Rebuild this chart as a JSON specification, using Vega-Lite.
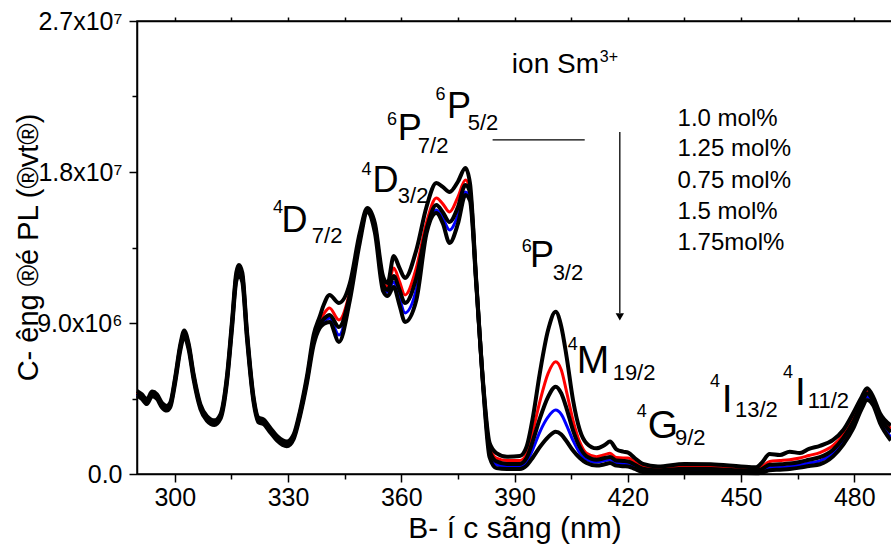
{
  "$schema": "https://vega.github.io/schema/vega-lite/v6.json",
  "autosize": {"type": "none"},
  "padding": {"left": 137, "top": 21, "right": 0, "bottom": 75},
  "width": 755,
  "height": 453,
  "background": "white",
  "config": {
    "font": "Liberation Sans",
    "view": {"stroke": "black", "strokeWidth": 1.5},
    "text": {"align": "left", "baseline": "alphabetic", "color": "#000000", "font": "Liberation Sans"},
    "axis": {"domainColor": "black", "domainWidth": 1.5, "tickColor": "black", "tickWidth": 1.5, "labelColor": "black", "titleColor": "black", "grid": false, "labelFont": "Liberation Sans", "titleFont": "Liberation Sans", "titleFontWeight": "normal"}
  },
  "datasets": {
    "spectra": [
      {"nm": 290, "s1": 4.95e6, "s2": 4.88e6, "s3": 4.81e6, "s4": 4.74e6, "s5": 4.67e6},
      {"nm": 291.3, "s1": 4.75e6, "s2": 4.68e6, "s3": 4.61e6, "s4": 4.54e6, "s5": 4.47e6},
      {"nm": 292.6, "s1": 4.45e6, "s2": 4.38e6, "s3": 4.31e6, "s4": 4.24e6, "s5": 4.17e6},
      {"nm": 294, "s1": 4.91e6, "s2": 4.84e6, "s3": 4.77e6, "s4": 4.70e6, "s5": 4.63e6},
      {"nm": 295.3, "s1": 4.75e6, "s2": 4.68e6, "s3": 4.61e6, "s4": 4.54e6, "s5": 4.47e6},
      {"nm": 296.6, "s1": 4.25e6, "s2": 4.18e6, "s3": 4.11e6, "s4": 4.04e6, "s5": 3.97e6},
      {"nm": 297.9, "s1": 4.06e6, "s2": 3.99e6, "s3": 3.92e6, "s4": 3.85e6, "s5": 3.78e6},
      {"nm": 298.8, "s1": 4.25e6, "s2": 4.18e6, "s3": 4.11e6, "s4": 4.04e6, "s5": 3.97e6},
      {"nm": 300.1, "s1": 5.75e6, "s2": 5.68e6, "s3": 5.6e6, "s4": 5.5e6, "s5": 5.42e6},
      {"nm": 301.5, "s1": 7.75e6, "s2": 7.68e6, "s3": 7.59e6, "s4": 7.48e6, "s5": 7.4e6},
      {"nm": 302.5, "s1": 8.55e6, "s2": 8.48e6, "s3": 8.39e6, "s4": 8.28e6, "s5": 8.2e6},
      {"nm": 303.7, "s1": 7.75e6, "s2": 7.68e6, "s3": 7.59e6, "s4": 7.48e6, "s5": 7.4e6},
      {"nm": 305, "s1": 5.95e6, "s2": 5.88e6, "s3": 5.8e6, "s4": 5.7e6, "s5": 5.62e6},
      {"nm": 306.8, "s1": 4.15e6, "s2": 4.08e6, "s3": 4.01e6, "s4": 3.94e6, "s5": 3.87e6},
      {"nm": 308.5, "s1": 3.46e6, "s2": 3.39e6, "s3": 3.32e6, "s4": 3.25e6, "s5": 3.18e6},
      {"nm": 310.5, "s1": 3.2e6, "s2": 3.13e6, "s3": 3.06e6, "s4": 2.99e6, "s5": 2.92e6},
      {"nm": 312.1, "s1": 3.56e6, "s2": 3.49e6, "s3": 3.42e6, "s4": 3.35e6, "s5": 3.28e6},
      {"nm": 313.8, "s1": 5.78e6, "s2": 5.7e6, "s3": 5.6e6, "s4": 5.5e6, "s5": 5.4e6},
      {"nm": 315.2, "s1": 9.2e6, "s2": 9.1e6, "s3": 8.98e6, "s4": 8.86e6, "s5": 8.75e6},
      {"nm": 316.3, "s1": 12.0e6, "s2": 11.9e6, "s3": 11.76e6, "s4": 11.62e6, "s5": 11.5e6},
      {"nm": 317, "s1": 12.46e6, "s2": 12.3e6, "s3": 12.2e6, "s4": 12.0e6, "s5": 11.85e6},
      {"nm": 317.9, "s1": 12.0e6, "s2": 11.9e6, "s3": 11.76e6, "s4": 11.6e6, "s5": 11.45e6},
      {"nm": 319.1, "s1": 8.6e6, "s2": 8.5e6, "s3": 8.39e6, "s4": 8.27e6, "s5": 8.15e6},
      {"nm": 320.9, "s1": 4.56e6, "s2": 4.49e6, "s3": 4.41e6, "s4": 4.33e6, "s5": 4.25e6},
      {"nm": 322.2, "s1": 3.36e6, "s2": 3.29e6, "s3": 3.22e6, "s4": 3.15e6, "s5": 3.08e6},
      {"nm": 323.5, "s1": 3.26e6, "s2": 3.19e6, "s3": 3.12e6, "s4": 3.05e6, "s5": 2.98e6},
      {"nm": 325.3, "s1": 2.76e6, "s2": 2.69e6, "s3": 2.62e6, "s4": 2.55e6, "s5": 2.48e6},
      {"nm": 327.1, "s1": 2.27e6, "s2": 2.2e6, "s3": 2.13e6, "s4": 2.06e6, "s5": 1.99e6},
      {"nm": 329.7, "s1": 1.93e6, "s2": 1.86e6, "s3": 1.79e6, "s4": 1.72e6, "s5": 1.65e6},
      {"nm": 331.5, "s1": 2.36e6, "s2": 2.29e6, "s3": 2.22e6, "s4": 2.15e6, "s5": 2.08e6},
      {"nm": 333.2, "s1": 3.78e6, "s2": 3.7e6, "s3": 3.62e6, "s4": 3.54e6, "s5": 3.46e6},
      {"nm": 335, "s1": 5.8e6, "s2": 5.7e6, "s3": 5.6e6, "s4": 5.48e6, "s5": 5.38e6},
      {"nm": 336.8, "s1": 8.3e6, "s2": 8.12e6, "s3": 7.99e6, "s4": 7.84e6, "s5": 7.7e6},
      {"nm": 338.4, "s1": 9.38e6, "s2": 9.1e6, "s3": 8.95e6, "s4": 8.85e6, "s5": 8.7e6},
      {"nm": 339.5, "s1": 10.1e6, "s2": 9.55e6, "s3": 9.25e6, "s4": 9.1e6, "s5": 8.95e6},
      {"nm": 341, "s1": 10.67e6, "s2": 9.89e6, "s3": 9.48e6, "s4": 9.3e6, "s5": 9.06e6},
      {"nm": 343.5, "s1": 10.19e6, "s2": 9.18e6, "s3": 8.76e6, "s4": 8.28e6, "s5": 7.87e6},
      {"nm": 346.4, "s1": 11.38e6, "s2": 10.9e6, "s3": 10.7e6, "s4": 10.55e6, "s5": 10.37e6},
      {"nm": 349, "s1": 14.36e6, "s2": 14.2e6, "s3": 14.05e6, "s4": 13.9e6, "s5": 13.77e6},
      {"nm": 351, "s1": 15.85e6, "s2": 15.8e6, "s3": 15.74e6, "s4": 15.68e6, "s5": 15.6e6},
      {"nm": 353, "s1": 14.96e6, "s2": 14.85e6, "s3": 14.75e6, "s4": 14.6e6, "s5": 14.4e6},
      {"nm": 355.2, "s1": 11.76e6, "s2": 11.5e6, "s3": 11.3e6, "s4": 11.1e6, "s5": 10.9e6},
      {"nm": 356.4, "s1": 11.38e6, "s2": 11.15e6, "s3": 10.97e6, "s4": 10.85e6, "s5": 10.61e6},
      {"nm": 358, "s1": 12.99e6, "s2": 12.28e6, "s3": 11.8e6, "s4": 11.44e6, "s5": 11.15e6},
      {"nm": 359.5, "s1": 12.3e6, "s2": 11.5e6, "s3": 11.0e6, "s4": 10.5e6, "s5": 10.1e6},
      {"nm": 361, "s1": 11.68e6, "s2": 10.67e6, "s3": 10.19e6, "s4": 9.6e6, "s5": 9.06e6},
      {"nm": 364, "s1": 13.35e6, "s2": 12.3e6, "s3": 11.7e6, "s4": 11.0e6, "s5": 10.37e6},
      {"nm": 366.7, "s1": 15.93e6, "s2": 15.0e6, "s3": 14.6e6, "s4": 14.4e6, "s5": 14.35e6},
      {"nm": 369.3, "s1": 17.34e6, "s2": 16.45e6, "s3": 16.03e6, "s4": 15.74e6, "s5": 15.56e6},
      {"nm": 371, "s1": 17.11e6, "s2": 16.1e6, "s3": 15.6e6, "s4": 15.25e6, "s5": 14.95e6},
      {"nm": 372.8, "s1": 16.81e6, "s2": 15.62e6, "s3": 15.02e6, "s4": 14.54e6, "s5": 13.77e6},
      {"nm": 375, "s1": 17.42e6, "s2": 16.5e6, "s3": 15.9e6, "s4": 15.4e6, "s5": 14.9e6},
      {"nm": 377, "s1": 18.24e6, "s2": 17.52e6, "s3": 17.22e6, "s4": 16.81e6, "s5": 16.63e6},
      {"nm": 378.2, "s1": 17.34e6, "s2": 17.0e6, "s3": 16.8e6, "s4": 16.5e6, "s5": 16.3e6},
      {"nm": 379.9, "s1": 11.4e6, "s2": 11.3e6, "s3": 11.3e6, "s4": 11.2e6, "s5": 11.2e6},
      {"nm": 381.7, "s1": 5.42e6, "s2": 5.3e6, "s3": 5.3e6, "s4": 5.2e6, "s5": 5.2e6},
      {"nm": 383.4, "s1": 1.85e6, "s2": 1.6e6, "s3": 1.4e6, "s4": 1.2e6, "s5": 1.0e6},
      {"nm": 385.2, "s1": 1.25e6, "s2": 0.95e6, "s3": 0.75e6, "s4": 0.55e6, "s5": 0.35e6},
      {"nm": 388, "s1": 1.03e6, "s2": 0.8e6, "s3": 0.6e6, "s4": 0.45e6, "s5": 0.3e6},
      {"nm": 391.4, "s1": 1.07e6, "s2": 0.8e6, "s3": 0.6e6, "s4": 0.45e6, "s5": 0.3e6},
      {"nm": 393.2, "s1": 1.63e6, "s2": 1.2e6, "s3": 0.95e6, "s4": 0.7e6, "s5": 0.5e6},
      {"nm": 394.9, "s1": 3.42e6, "s2": 2.6e6, "s3": 2.0e6, "s4": 1.5e6, "s5": 1.0e6},
      {"nm": 396.7, "s1": 6.0e6, "s2": 4.3e6, "s3": 3.3e6, "s4": 2.5e6, "s5": 1.6e6},
      {"nm": 398.9, "s1": 8.58e6, "s2": 6.0e6, "s3": 4.6e6, "s4": 3.4e6, "s5": 2.2e6},
      {"nm": 400.9, "s1": 9.67e6, "s2": 6.69e6, "s3": 5.2e6, "s4": 3.81e6, "s5": 2.52e6},
      {"nm": 402.4, "s1": 8.78e6, "s2": 6.2e6, "s3": 4.8e6, "s4": 3.55e6, "s5": 2.35e6},
      {"nm": 403.8, "s1": 6.99e6, "s2": 4.9e6, "s3": 3.9e6, "s4": 2.9e6, "s5": 1.95e6},
      {"nm": 405.5, "s1": 4.41e6, "s2": 3.2e6, "s3": 2.6e6, "s4": 2.0e6, "s5": 1.4e6},
      {"nm": 407.3, "s1": 2.62e6, "s2": 1.9e6, "s3": 1.6e6, "s4": 1.25e6, "s5": 0.95e6},
      {"nm": 409.1, "s1": 1.83e6, "s2": 1.23e6, "s3": 1.05e6, "s4": 0.85e6, "s5": 0.65e6},
      {"nm": 411.7, "s1": 1.53e6, "s2": 1.03e6, "s3": 0.85e6, "s4": 0.7e6, "s5": 0.5e6},
      {"nm": 413.9, "s1": 1.73e6, "s2": 1.15e6, "s3": 0.95e6, "s4": 0.8e6, "s5": 0.58e6},
      {"nm": 415.3, "s1": 1.93e6, "s2": 1.23e6, "s3": 1.02e6, "s4": 0.85e6, "s5": 0.65e6},
      {"nm": 417, "s1": 1.47e6, "s2": 0.98e6, "s3": 0.8e6, "s4": 0.66e6, "s5": 0.5e6},
      {"nm": 418.8, "s1": 1.33e6, "s2": 0.95e6, "s3": 0.78e6, "s4": 0.62e6, "s5": 0.46e6},
      {"nm": 420.1, "s1": 1.27e6, "s2": 0.95e6, "s3": 0.75e6, "s4": 0.6e6, "s5": 0.45e6},
      {"nm": 421.9, "s1": 0.94e6, "s2": 0.7e6, "s3": 0.55e6, "s4": 0.42e6, "s5": 0.3e6},
      {"nm": 424, "s1": 0.6e6, "s2": 0.42e6, "s3": 0.32e6, "s4": 0.22e6, "s5": 0.12e6},
      {"nm": 428, "s1": 0.45e6, "s2": 0.3e6, "s3": 0.22e6, "s4": 0.15e6, "s5": 0.06e6},
      {"nm": 435, "s1": 0.6e6, "s2": 0.42e6, "s3": 0.32e6, "s4": 0.22e6, "s5": 0.12e6},
      {"nm": 442, "s1": 0.58e6, "s2": 0.4e6, "s3": 0.3e6, "s4": 0.2e6, "s5": 0.1e6},
      {"nm": 450, "s1": 0.45e6, "s2": 0.3e6, "s3": 0.22e6, "s4": 0.15e6, "s5": 0.06e6},
      {"nm": 454, "s1": 0.4e6, "s2": 0.28e6, "s3": 0.2e6, "s4": 0.12e6, "s5": 0.05e6},
      {"nm": 455.4, "s1": 0.64e6, "s2": 0.4e6, "s3": 0.28e6, "s4": 0.18e6, "s5": 0.08e6},
      {"nm": 457.6, "s1": 1.19e6, "s2": 0.75e6, "s3": 0.55e6, "s4": 0.38e6, "s5": 0.22e6},
      {"nm": 460.3, "s1": 1.13e6, "s2": 0.8e6, "s3": 0.58e6, "s4": 0.42e6, "s5": 0.26e6},
      {"nm": 462.9, "s1": 1.33e6, "s2": 0.85e6, "s3": 0.62e6, "s4": 0.45e6, "s5": 0.3e6},
      {"nm": 465.6, "s1": 1.25e6, "s2": 0.95e6, "s3": 0.72e6, "s4": 0.55e6, "s5": 0.38e6},
      {"nm": 468, "s1": 1.5e6, "s2": 1.1e6, "s3": 0.85e6, "s4": 0.65e6, "s5": 0.48e6},
      {"nm": 470.9, "s1": 1.68e6, "s2": 1.28e6, "s3": 1.0e6, "s4": 0.78e6, "s5": 0.58e6},
      {"nm": 474.4, "s1": 2.03e6, "s2": 1.7e6, "s3": 1.45e6, "s4": 1.25e6, "s5": 1.05e6},
      {"nm": 477.1, "s1": 2.62e6, "s2": 2.35e6, "s3": 2.15e6, "s4": 1.95e6, "s5": 1.75e6},
      {"nm": 479.7, "s1": 3.62e6, "s2": 3.3e6, "s3": 3.1e6, "s4": 2.9e6, "s5": 2.7e6},
      {"nm": 482, "s1": 4.61e6, "s2": 4.4e6, "s3": 4.25e6, "s4": 4.05e6, "s5": 3.9e6},
      {"nm": 483.4, "s1": 5.11e6, "s2": 4.9e6, "s3": 4.8e6, "s4": 4.6e6, "s5": 4.41e6},
      {"nm": 485, "s1": 4.61e6, "s2": 4.5e6, "s3": 4.4e6, "s4": 4.25e6, "s5": 4.1e6},
      {"nm": 486.8, "s1": 3.62e6, "s2": 3.5e6, "s3": 3.4e6, "s4": 3.2e6, "s5": 3.05e6},
      {"nm": 489.7, "s1": 2.9e6, "s2": 2.7e6, "s3": 2.5e6, "s4": 2.2e6, "s5": 2.0e6}
    ],
    "labels": [
      {"kind": "sup", "t": "4", "nm": 326.0, "I": 1.556e7},
      {"kind": "big", "t": "D", "nm": 328.3, "I": 1.442e7},
      {"kind": "sub", "t": "7/2", "nm": 336.3, "I": 1.377e7},
      {"kind": "sup", "t": "4", "nm": 349.5, "I": 1.782e7},
      {"kind": "big", "t": "D", "nm": 352.4, "I": 1.681e7},
      {"kind": "sub", "t": "3/2", "nm": 359.1, "I": 1.615e7},
      {"kind": "sup", "t": "6", "nm": 356.2, "I": 2.08e7},
      {"kind": "big", "t": "P", "nm": 359.1, "I": 1.991e7},
      {"kind": "sub", "t": "7/2", "nm": 364.4, "I": 1.913e7},
      {"kind": "sup", "t": "6", "nm": 369.1, "I": 2.229e7},
      {"kind": "big", "t": "P", "nm": 372.1, "I": 2.122e7},
      {"kind": "sub", "t": "5/2", "nm": 377.6, "I": 2.05e7},
      {"kind": "sup", "t": "6", "nm": 391.9, "I": 1.323e7},
      {"kind": "big", "t": "P", "nm": 394.1, "I": 1.234e7},
      {"kind": "sub", "t": "3/2", "nm": 400.1, "I": 1.156e7},
      {"kind": "sup", "t": "4", "nm": 404.1, "I": 7.39e6},
      {"kind": "bigL", "t": "M", "nm": 406.5, "I": 6.02e6},
      {"kind": "sub", "t": "19/2", "nm": 416.0, "I": 5.6e6},
      {"kind": "sup", "t": "4", "nm": 422.4, "I": 3.4e6},
      {"kind": "bigL", "t": "G", "nm": 425.3, "I": 2.15e6},
      {"kind": "sub", "t": "9/2", "nm": 432.5, "I": 1.73e6},
      {"kind": "sup", "t": "4", "nm": 441.8, "I": 5.19e6},
      {"kind": "bigL", "t": "I", "nm": 444.9, "I": 3.7e6},
      {"kind": "sub", "t": "13/2", "nm": 448.4, "I": 3.4e6},
      {"kind": "sup", "t": "4", "nm": 461.1, "I": 5.72e6},
      {"kind": "bigL", "t": "I", "nm": 464.3, "I": 4.11e6},
      {"kind": "sub", "t": "11/2", "nm": 467.7, "I": 3.93e6},
      {"kind": "ion", "t": "ion Sm", "nm": 389.3, "I": 2.39e7},
      {"kind": "ionsup", "t": "3+", "nm": 412.6, "I": 2.456e7},
      {"kind": "legend", "t": "1.0 mol%", "nm": 433.2, "I": 2.074e7},
      {"kind": "legend", "t": "1.25 mol%", "nm": 433.2, "I": 1.895e7},
      {"kind": "legend", "t": "0.75 mol%", "nm": 433.2, "I": 1.705e7},
      {"kind": "legend", "t": "1.5 mol%", "nm": 433.2, "I": 1.52e7},
      {"kind": "legend", "t": "1.75mol%", "nm": 433.2, "I": 1.335e7}
    ],
    "rules": [
      {"nm": 384.2, "nm2": 408.6, "I": 1.991e7, "I2": 1.991e7},
      {"nm": 417.9, "nm2": 417.9, "I": 2.038e7, "I2": 9.6e6}
    ],
    "arrowhead": [
      {"nm": 417.9, "I": 9.36e6}
    ]
  },
  "resolve": {"axis": {"x": "independent"}},
  "layer": [
    {
      "data": {"name": "spectra"},
      "transform": [
        {"fold": ["s1", "s2", "s3", "s4", "s5"], "as": ["series", "I"]},
        {"filter": "datum.series === 's2' || datum.series === 's4'"}
      ],
      "mark": {"type": "line", "strokeWidth": 3, "interpolate": "monotone"},
      "encoding": {
        "x": {"field": "nm", "type": "quantitative", "scale": {"domain": [290, 490], "nice": false, "zero": false},
          "axis": {"orient": "bottom", "title": "B- í c sãng (nm)", "titleFontSize": 30, "titlePadding": 3,
            "values": [300, 315, 330, 345, 360, 375, 390, 405, 420, 435, 450, 465, 480],
            "labelExpr": "datum.value % 30 === 0 ? datum.label : ''",
            "labelFontSize": 25, "labelPadding": 3,
            "tickSize": {"condition": {"test": "datum.value % 30 === 0", "value": 8}, "value": 5}}},
        "y": {"field": "I", "type": "quantitative", "scale": {"domain": [0, 27000000], "nice": false},
          "axis": {"title": "C- êng ®é PL (®vt®)", "titleFontSize": 29, "titleAngle": 270, "titleX": -109, "titleY": 226, "titleAlign": "center", "titleBaseline": "middle",
            "values": [0, 4500000, 9000000, 13500000, 18000000, 22500000, 27000000],
            "labelExpr": "datum.value === 0 ? '0.0' : datum.value === 9000000 ? '9.0x10⁶' : datum.value === 18000000 ? '1.8x10⁷' : datum.value === 27000000 ? '2.7x10⁷' : ''",
            "labelFontSize": 25, "labelPadding": 7,
            "tickSize": {"condition": {"test": "datum.value % 9000000 === 0", "value": 8}, "value": 5}}},
        "color": {"field": "series", "type": "nominal", "scale": {"domain": ["s2", "s4"], "range": ["#ff0000", "#0000ff"]}, "legend": null}
      }
    },
    {
      "data": {"name": "spectra"},
      "transform": [
        {"fold": ["s1", "s2", "s3", "s4", "s5"], "as": ["series", "I"]},
        {"filter": "datum.series === 's1' || datum.series === 's3' || datum.series === 's5'"}
      ],
      "mark": {"type": "line", "strokeWidth": 4, "color": "#000000", "interpolate": "monotone"},
      "encoding": {
        "x": {"field": "nm", "type": "quantitative",
          "axis": {"orient": "top", "title": null, "labels": false, "domain": true,
            "values": [300, 315, 330, 345, 360, 375, 390, 405, 420, 435, 450, 465, 480], "tickSize": 4}},
        "y": {"field": "I", "type": "quantitative"},
        "detail": {"field": "series", "type": "nominal"}
      }
    },
    {
      "data": {"name": "rules"},
      "mark": {"type": "rule", "color": "#000000", "strokeWidth": 1.3},
      "encoding": {
        "x": {"field": "nm", "type": "quantitative", "axis": null},
        "x2": {"field": "nm2"},
        "y": {"field": "I", "type": "quantitative"},
        "y2": {"field": "I2"}
      }
    },
    {
      "data": {"name": "arrowhead"},
      "mark": {"type": "point", "shape": "triangle-down", "filled": true, "color": "#000000", "size": 70, "opacity": 1},
      "encoding": {
        "x": {"field": "nm", "type": "quantitative", "axis": null},
        "y": {"field": "I", "type": "quantitative"}
      }
    },
    {
      "data": {"name": "labels"},
      "transform": [{"filter": "datum.kind === 'big'"}],
      "mark": {"type": "text", "fontSize": 36},
      "encoding": {"x": {"field": "nm", "type": "quantitative", "axis": null}, "y": {"field": "I", "type": "quantitative"}, "text": {"field": "t", "type": "nominal"}}
    },
    {
      "data": {"name": "labels"},
      "transform": [{"filter": "datum.kind === 'bigL'"}],
      "mark": {"type": "text", "fontSize": 39},
      "encoding": {"x": {"field": "nm", "type": "quantitative", "axis": null}, "y": {"field": "I", "type": "quantitative"}, "text": {"field": "t", "type": "nominal"}}
    },
    {
      "data": {"name": "labels"},
      "transform": [{"filter": "datum.kind === 'sub'"}],
      "mark": {"type": "text", "fontSize": 22},
      "encoding": {"x": {"field": "nm", "type": "quantitative", "axis": null}, "y": {"field": "I", "type": "quantitative"}, "text": {"field": "t", "type": "nominal"}}
    },
    {
      "data": {"name": "labels"},
      "transform": [{"filter": "datum.kind === 'sup'"}],
      "mark": {"type": "text", "fontSize": 18},
      "encoding": {"x": {"field": "nm", "type": "quantitative", "axis": null}, "y": {"field": "I", "type": "quantitative"}, "text": {"field": "t", "type": "nominal"}}
    },
    {
      "data": {"name": "labels"},
      "transform": [{"filter": "datum.kind === 'legend'"}],
      "mark": {"type": "text", "fontSize": 24},
      "encoding": {"x": {"field": "nm", "type": "quantitative", "axis": null}, "y": {"field": "I", "type": "quantitative"}, "text": {"field": "t", "type": "nominal"}}
    },
    {
      "data": {"name": "labels"},
      "transform": [{"filter": "datum.kind === 'ion'"}],
      "mark": {"type": "text", "fontSize": 28},
      "encoding": {"x": {"field": "nm", "type": "quantitative", "axis": null}, "y": {"field": "I", "type": "quantitative"}, "text": {"field": "t", "type": "nominal"}}
    },
    {
      "data": {"name": "labels"},
      "transform": [{"filter": "datum.kind === 'ionsup'"}],
      "mark": {"type": "text", "fontSize": 16},
      "encoding": {"x": {"field": "nm", "type": "quantitative", "axis": null}, "y": {"field": "I", "type": "quantitative"}, "text": {"field": "t", "type": "nominal"}}
    }
  ]
}
